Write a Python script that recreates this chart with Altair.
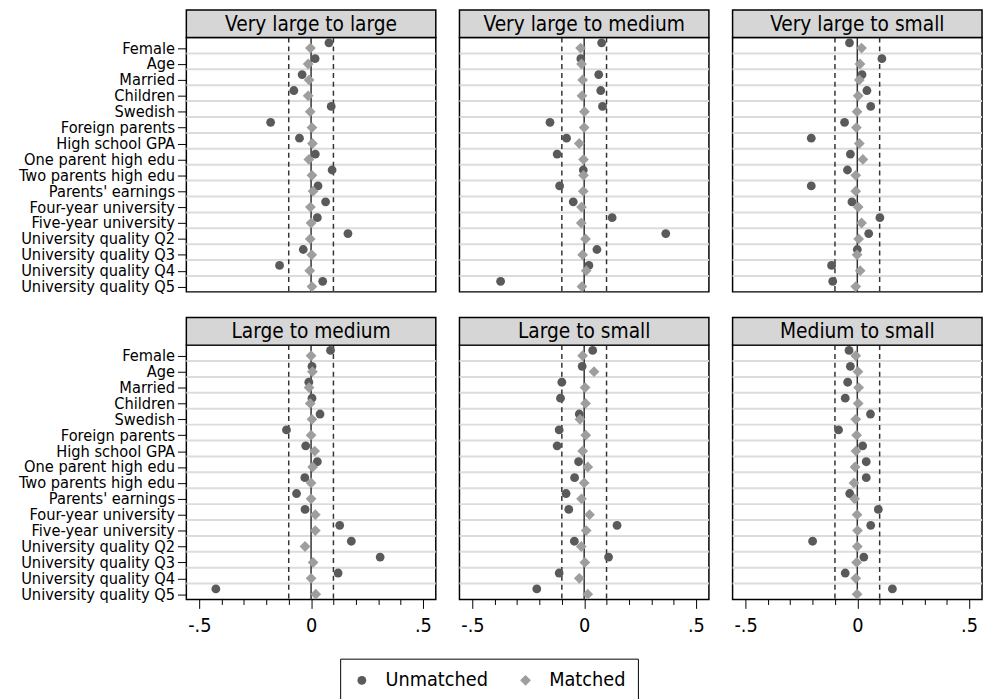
import json
import altair as alt
import pandas as pd

variables = ["Female", "Age", "Married", "Children", "Swedish", "Foreign parents",
             "High school GPA", "One parent high edu", "Two parents high edu",
             "Parents' earnings", "Four-year university", "Five-year university",
             "University quality Q2", "University quality Q3", "University quality Q4",
             "University quality Q5"]

panels = ["Very large to large", "Very large to medium", "Very large to small",
          "Large to medium", "Large to small", "Medium to small"]

series_names = ["Unmatched", "Matched"]

unmatched_vl_l = [0.080, 0.018, -0.040, -0.077, 0.090, -0.181, -0.052, 0.019, 0.094, 0.031, 0.065, 0.028, 0.165, -0.035, -0.141, 0.052]
matched_vl_l = [-0.003, -0.013, -0.009, -0.013, -0.004, 0.004, 0.006, -0.010, 0.004, 0.009, -0.003, 0.000, -0.004, 0.003, -0.006, 0.004]

unmatched_vl_m = [0.078, -0.015, 0.065, 0.074, 0.082, -0.153, -0.079, -0.121, -0.004, -0.110, -0.049, 0.125, 0.365, 0.057, 0.021, -0.374]
matched_vl_m = [-0.016, -0.012, -0.007, -0.010, 0.001, 0.000, -0.022, -0.003, -0.003, -0.004, -0.012, -0.013, 0.006, -0.007, 0.009, -0.010]

unmatched_vl_s = [-0.035, 0.110, 0.021, 0.043, 0.060, -0.057, -0.206, -0.031, -0.044, -0.206, -0.024, 0.101, 0.051, 0.000, -0.115, -0.110]
matched_vl_s = [0.019, 0.012, 0.009, 0.004, -0.001, -0.004, 0.009, 0.025, -0.007, -0.007, 0.004, 0.019, 0.006, -0.001, 0.013, -0.007]

unmatched_l_m = [0.087, 0.004, -0.010, 0.004, 0.040, -0.110, -0.024, 0.028, -0.028, -0.065, -0.027, 0.128, 0.180, 0.309, 0.121, -0.426]
matched_l_m = [0.000, 0.006, -0.009, -0.004, 0.004, 0.000, 0.016, 0.007, 0.000, 0.000, 0.019, 0.019, -0.027, 0.009, 0.000, 0.021]

unmatched_l_s = [0.038, -0.009, -0.100, -0.106, -0.022, -0.112, -0.121, -0.025, -0.043, -0.081, -0.069, 0.147, -0.044, 0.109, -0.112, -0.212]
matched_l_s = [-0.007, 0.044, 0.004, 0.006, -0.019, 0.007, -0.007, 0.016, 0.000, -0.012, 0.024, 0.009, -0.013, 0.003, -0.022, 0.016]

unmatched_m_s = [-0.037, -0.031, -0.043, -0.054, 0.059, -0.084, 0.024, 0.040, 0.040, -0.034, 0.094, 0.060, -0.200, 0.029, -0.054, 0.157]
matched_m_s = [-0.007, 0.003, 0.006, 0.004, -0.007, -0.003, -0.006, -0.010, -0.015, -0.012, -0.001, 0.001, 0.000, -0.003, -0.007, -0.001]

panel_data = {
    panels[0]: (unmatched_vl_l, matched_vl_l),
    panels[1]: (unmatched_vl_m, matched_vl_m),
    panels[2]: (unmatched_vl_s, matched_vl_s),
    panels[3]: (unmatched_l_m, matched_l_m),
    panels[4]: (unmatched_l_s, matched_l_s),
    panels[5]: (unmatched_m_s, matched_m_s),
}

x_ticks = [-0.5, -0.4, -0.3, -0.2, -0.1, 0, 0.1, 0.2, 0.3, 0.4, 0.5]
ref_x = [-0.1, 0, 0.1]
ref_style = ["dashed", "solid", "dashed"]
series_offset = {"Unmatched": -0.333, "Matched": 0.0}
grid_offset = 0.333

FONT = "DejaVu Sans Condensed, Liberation Sans Narrow, DejaVu Sans, sans-serif"
W = 253
H = 258
HEADER = 28

rows = []
for p in panels:
    um, mt = panel_data[p]
    for i, v in enumerate(variables):
        rows.append({"panel": p, "variable": v, "series": "Unmatched", "value": um[i], "ypos": i + series_offset["Unmatched"]})
        rows.append({"panel": p, "variable": v, "series": "Matched", "value": mt[i], "ypos": i + series_offset["Matched"]})
df = pd.DataFrame(rows)
grid_df = pd.DataFrame({"g": [i + grid_offset for i in range(len(variables) - 1)]})
ref_df = pd.DataFrame({"x": ref_x, "style": ref_style})

xscale = alt.Scale(domain=[-0.558, 0.558], nice=False, zero=False)
yscale = alt.Scale(domain=[-0.667, 15.333], reverse=True, nice=False, zero=False)
label_array = json.dumps(variables)

legend = alt.Legend(
    title=None, orient="none", legendX=156, legendY=630, direction="horizontal",
    columns=2, strokeColor="black", fillColor="white", padding=12,
    labelFont=FONT, labelFontSize=20, labelColor="black", labelOffset=14,
    symbolSize=105, columnPadding=28, symbolStrokeWidth=0,
)


def panel(title, show_y, show_x):
    d = df[df.panel == title]
    if show_x:
        xaxis = alt.Axis(
            values=x_ticks, title=None, grid=False, domain=False,
            labelExpr="datum.value == 0 ? '0' : datum.value == 0.5 ? '.5' : datum.value == -0.5 ? '-.5' : ''",
            tickSize={"condition": {"test": "datum.value == 0 || abs(datum.value) == 0.5", "value": 9}, "value": 5},
            tickColor="black", tickWidth=1, labelFont=FONT, labelFontSize=20, labelColor="black",
            labelPadding=7, labelFlush=False, labelOverlap=False, labelBound=False,
        )
    else:
        xaxis = None
    if show_y:
        yaxis = alt.Axis(
            values=list(range(len(variables))), title=None, grid=False, domain=False,
            labelExpr=label_array + "[datum.value]", tickSize=9, tickColor="black", tickWidth=1,
            labelFont=FONT, labelFontSize=16.5, labelColor="black", labelPadding=3,
            labelOverlap=False, labelBound=False, labelFlush=False, minExtent=170, maxExtent=170,
        )
    else:
        yaxis = None

    grid = alt.Chart(grid_df).mark_rule(color="#dcdcdc", strokeWidth=2).encode(
        y=alt.Y("g:Q", scale=yscale, axis=yaxis)
    )
    refs = alt.Chart(ref_df).mark_rule(color="#333333", strokeWidth=1.5).encode(
        x=alt.X("x:Q", scale=xscale, axis=xaxis),
        strokeDash=alt.StrokeDash("style:N", scale=alt.Scale(domain=["solid", "dashed"], range=[[1, 0], [5, 4]]), legend=None),
    )
    pts = alt.Chart(d).mark_point(filled=True, opacity=1, strokeWidth=0).encode(
        x=alt.X("value:Q", scale=xscale, axis=xaxis),
        y=alt.Y("ypos:Q", scale=yscale, axis=yaxis),
        shape=alt.Shape("series:N", scale=alt.Scale(domain=series_names, range=["circle", "diamond"]), legend=legend),
        color=alt.Color("series:N", scale=alt.Scale(domain=series_names, range=["#5a5a5a", "#9e9e9e"]), legend=legend),
        size=alt.Size("series:N", scale=alt.Scale(domain=series_names, range=[80, 120]), legend=None),
        order=alt.Order("ypos:Q"),
    )
    head_df = pd.DataFrame({"title": [title]})
    head_rect = alt.Chart(head_df).mark_rect(fill="#d6d6d6", stroke="black", strokeWidth=1.5).encode(
        x=alt.value(0), x2=alt.value(W), y=alt.value(-HEADER), y2=alt.value(0)
    )
    head_text = alt.Chart(head_df).mark_text(font=FONT, fontSize=21, color="black", baseline="middle", align="center").encode(
        x=alt.value(W / 2), y=alt.value(-HEADER / 2 + 1), text="title:N"
    )
    return alt.layer(grid, refs, pts, head_rect, head_text).properties(width=W, height=H)


row1 = alt.hconcat(*[panel(p, i == 0, False) for i, p in enumerate(panels[:3])], spacing=20)
row2 = alt.hconcat(*[panel(p, i == 0, True) for i, p in enumerate(panels[3:])], spacing=20)

chart = alt.vconcat(row1, row2, spacing=20).properties(
    padding={"left": 17, "top": 3, "right": 0, "bottom": 0},
    background="white",
).configure_view(stroke="black", strokeWidth=1.5).resolve_scale(
    shape="shared", color="shared", size="shared", strokeDash="shared"
)

chart.save("out.html", embed_options={"renderer": "svg", "actions": False})
